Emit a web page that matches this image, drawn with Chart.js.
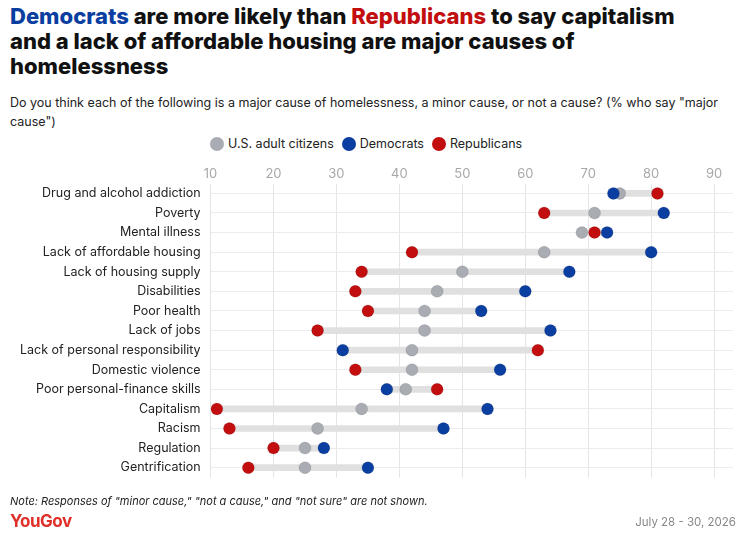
<!DOCTYPE html>
<html><head><meta charset="utf-8">
<script src="https://cdn.jsdelivr.net/npm/chart.js@4"></script>
<style>
body{margin:0;width:748px;height:540px;font-family:Inter,"Noto Sans",sans-serif;background:#fff;position:relative;overflow:hidden}
h1{position:absolute;left:10px;top:4px;margin:0;font-size:22px;line-height:25px;font-weight:800;color:#111;width:690px}
.sub{position:absolute;left:10px;top:93px;font-size:12.5px;line-height:19px;color:#222;width:725px}
.leg{position:absolute;left:210px;top:136px;font-size:12.5px;color:#222}
.leg span{display:inline-block;margin-right:8px}
.leg i{display:inline-block;width:14px;height:14px;border-radius:50%;vertical-align:-3px;margin-right:4px}
.note{position:absolute;left:10px;top:494px;font-size:11px;font-style:italic;color:#222}
.logo{position:absolute;left:10px;top:511px;font-size:17px;font-weight:700;color:#e0302a;letter-spacing:-0.5px}
.date{position:absolute;right:12px;top:515px;font-size:11.5px;color:#888}
#wrap{position:absolute;left:0;top:164px;width:740px;height:331px}
</style></head><body>
<h1><span style="color:#0a3ea0">Democrats</span> are more likely than <span style="color:#c20e0e">Republicans</span> to say capitalism and a lack of affordable housing are major causes of homelessness</h1>
<div class="sub">Do you think each of the following is a major cause of homelessness, a minor cause, or not a cause? (% who say "major cause")</div>
<div class="leg"><span><i style="background:#a9acb3"></i>U.S. adult citizens</span><span><i style="background:#0a3ea0"></i>Democrats</span><span><i style="background:#c20e0e"></i>Republicans</span></div>
<div id="wrap"><canvas id="c"></canvas></div>
<div class="note">Note: Responses of "minor cause," "not a cause," and "not sure" are not shown.</div>
<div class="logo">YouGov</div>
<div class="date">July 28 - 30, 2026</div>
<script>
var causes = ["Drug and alcohol addiction","Poverty","Mental illness","Lack of affordable housing","Lack of housing supply","Disabilities","Poor health","Lack of jobs","Lack of personal responsibility","Domestic violence","Poor personal-finance skills","Capitalism","Racism","Regulation","Gentrification"];
var adults = [75,71,69,63,50,46,44,44,42,42,41,34,27,25,25];
var democrats = [74,82,73,80,67,60,53,64,31,56,38,54,47,28,35];
var republicans = [81,63,71,42,34,33,35,27,62,33,46,11,13,20,16];
var xTicks = [10,20,30,40,50,60,70,80,90];

var range = causes.map((c,i) => [Math.min(democrats[i],republicans[i]), Math.max(democrats[i],republicans[i])]);
function pts(arr){ return arr.map((v,i) => ({x:v, y:causes[i]})); }

new Chart(document.getElementById("c"), {
    type: "bar",
    data: {
        labels: causes,
        datasets: [
            {type:"scatter", data: pts(republicans), backgroundColor:"#c20e0e", pointRadius:6, pointHoverRadius:6, order:1},
            {type:"scatter", data: pts(democrats), backgroundColor:"#0a3ea0", pointRadius:6, pointHoverRadius:6, order:2},
            {type:"scatter", data: pts(adults), backgroundColor:"#a9acb3", pointRadius:6, pointHoverRadius:6, order:3},
            {data: range, backgroundColor:"#e0e0e0", barThickness:6, order:4}
        ]
    },
    options: {
        indexAxis: "y",
        responsive: true,
        maintainAspectRatio: false,
        animation: false,
        layout: {padding:{left:10,right:0,top:0,bottom:0}},
        plugins: {legend:{display:false}, tooltip:{enabled:false}},
        scales: {
            x: {type:"linear", position:"top", min:10, max:93,
                afterBuildTicks: s => { s.ticks = xTicks.map(v => ({value:v})); },
                ticks:{color:"#a8a8a8", font:{size:13, family:"Inter"}, padding:2},
                grid:{color:"#e4e4e4", drawTicks:false}, border:{display:false}},
            y: {type:"category", labels: causes, offset:true,
                ticks:{color:"#222", font:{size:12.5, family:"Inter"}, padding:10},
                grid:{color:"#ececec", drawTicks:false, offset:false}, border:{display:false}}
        }
    }
});
</script>
</body></html>
